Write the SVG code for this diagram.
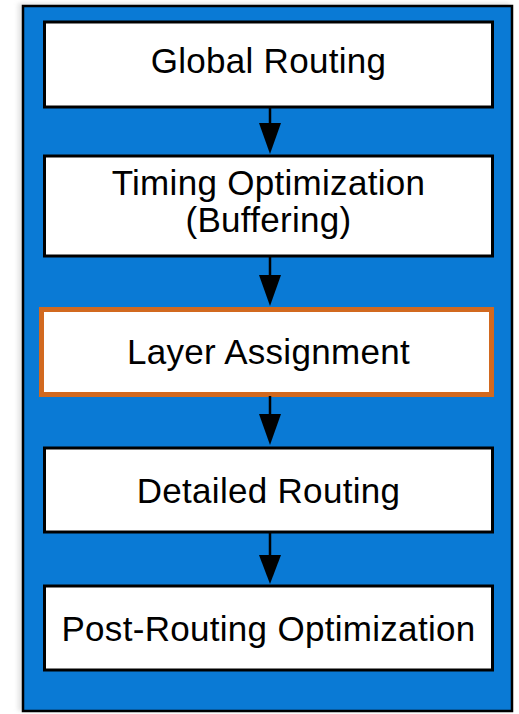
<svg xmlns="http://www.w3.org/2000/svg" width="519" height="714" viewBox="0 0 519 714">
  <defs>
    <style>
      .step { fill: #ffffff; stroke: #000000; stroke-width: 3; }
      .focus { fill: #ffffff; stroke: #D2691F; stroke-width: 5; }
      .label { font-family: "Liberation Sans", Arial, Helvetica, sans-serif; font-size: 35px; letter-spacing: 0.3px; fill: #000000; text-anchor: middle; }
      .wire { stroke: #000000; stroke-width: 2.5; fill: none; }
      .head { fill: #000000; }
    </style>
    <filter id="soft" x="-5%" y="-5%" width="110%" height="110%">
      <feGaussianBlur stdDeviation="2"/>
    </filter>
  </defs>

  <!-- flow container -->
  <g id="frame">
    <rect x="18" y="3" width="492" height="708" fill="#d0d0d0" opacity="0.6" filter="url(#soft)"/>
    <rect x="23" y="6" width="489" height="705" fill="#0A7AD5" stroke="#000000" stroke-width="2.5"/>
  </g>

  <g id="global-routing">
    <rect class="step" x="44.5" y="22" width="448" height="85"/>
    <text class="label" x="268.5" y="73">Global Routing</text>
  </g>

  <g id="timing-optimization">
    <rect class="step" x="44.5" y="156" width="448" height="100"/>
    <text class="label" x="268.5" y="195">Timing Optimization</text>
    <text class="label" x="268.5" y="232">(Buffering)</text>
  </g>

  <g id="layer-assignment">
    <rect class="focus" x="41.5" y="309.5" width="450" height="85"/>
    <text class="label" x="268.5" y="364">Layer Assignment</text>
  </g>

  <g id="detailed-routing">
    <rect class="step" x="44.5" y="448" width="448" height="84"/>
    <text class="label" x="268.5" y="503">Detailed Routing</text>
  </g>

  <g id="post-routing-optimization">
    <rect class="step" x="44.5" y="586" width="448" height="84"/>
    <text class="label" x="268.5" y="641">Post-Routing Optimization</text>
  </g>

  <!-- connectors -->
  <g id="connectors">
    <line class="wire" x1="270" y1="107" x2="270" y2="125"/>
    <polygon class="head" points="259,123 281,123 270,154"/>
    <line class="wire" x1="270" y1="256" x2="270" y2="277"/>
    <polygon class="head" points="259,275 281,275 270,306"/>
    <line class="wire" x1="270" y1="396" x2="270" y2="416"/>
    <polygon class="head" points="259,414 281,414 270,445"/>
    <line class="wire" x1="270" y1="532" x2="270" y2="557"/>
    <polygon class="head" points="259,555 281,555 270,584"/>
  </g>
</svg>
